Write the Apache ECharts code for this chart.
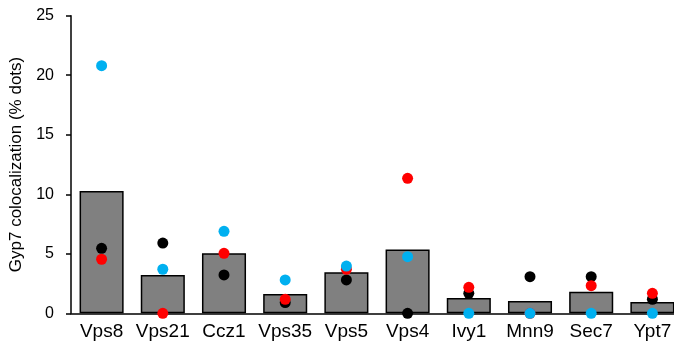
<!DOCTYPE html>
<html>
<head>
<meta charset="utf-8">
<script src="https://cdn.jsdelivr.net/npm/echarts@6/dist/echarts.min.js"></script>
<style>html,body{margin:0;padding:0;background:#fff}#c{width:674px;height:343px}</style>
</head>
<body>
<div id="c"></div>
<script>
var categories = ['Vps8','Vps21','Ccz1','Vps35','Vps5','Vps4','Ivy1','Mnn9','Sec7','Ypt7'];
var meanValues = [10.27, 3.22, 5.05, 1.62, 3.45, 5.37, 1.29, 1.03, 1.80, 0.95];
var blackDots = [5.46, 5.90, 3.22, 0.90, 2.80, 0.00, 1.68, 3.08, 3.08, 1.18];
var redDots   = [4.54, 0.00, 5.04, 1.17, 3.70, 11.34, 2.18, 0.00, 2.32, 1.68];
var blueDots  = [20.80, 3.70, 6.89, 2.80, 3.97, 4.76, 0.00, 0.00, 0.00, 0.00];
var yTicks = [0, 5, 10, 15, 20, 25];

var font = 'Liberation Sans, Arial, sans-serif';
var chart = echarts.init(document.getElementById('c'), null, {renderer:'canvas'});
function dots(name, data, color, z){
  return {name:name, type:'scatter', data:data, symbol:'circle', symbolSize:11,
    itemStyle:{color:color, opacity:1}, z:z, animation:false};
}
chart.setOption({
  animation:false,
  grid:{left:71, right:-9, top:15.7, bottom:29.7, containLabel:false, outerBoundsMode:'none'},
  xAxis:{type:'category', data:categories,
    axisLine:{lineStyle:{color:'#000', width:1.5}},
    axisTick:{show:false},
    axisLabel:{color:'#000', fontFamily:font, fontSize:19, margin:9, interval:0}
  },
  yAxis:{type:'value', min:yTicks[0], max:yTicks[yTicks.length-1], interval:5,
    name:'Gyp7 colocalization (% dots)', nameLocation:'middle', nameGap:42,
    nameTextStyle:{color:'#000', fontFamily:font, fontSize:17},
    axisLine:{show:true, lineStyle:{color:'#000', width:1.5}},
    axisTick:{show:true, length:5, lineStyle:{color:'#000', width:1.5}},
    splitLine:{show:false},
    axisLabel:{color:'#000', fontFamily:font, fontSize:16, margin:17}
  },
  series:[
    {name:'mean', type:'bar', data:meanValues, barWidth:'72%',
      itemStyle:{color:'#808080', borderColor:'#000', borderWidth:1.5}, z:2},
    dots('black', blackDots, '#000000', 3),
    dots('red', redDots, '#FF0000', 4),
    dots('blue', blueDots, '#00B0F0', 5)
  ]
});
</script>
</body>
</html>
